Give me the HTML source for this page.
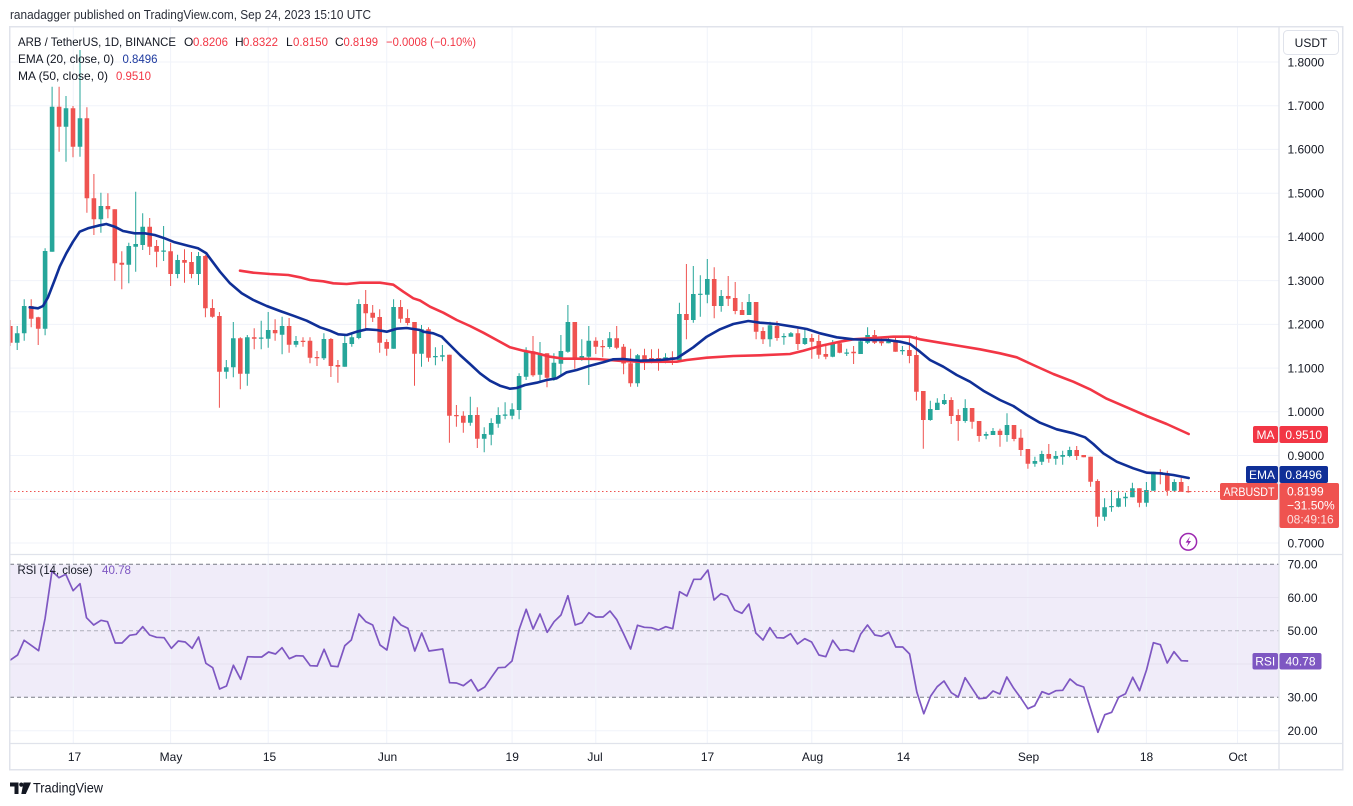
<!DOCTYPE html>
<html>
<head>
<meta charset="utf-8">
<style>
  html,body{margin:0;padding:0;background:#ffffff;}
  svg{display:block;}
  text{font-family:"Liberation Sans",Arial,sans-serif;}
</style>
</head>
<body>
<svg width="1353" height="806" viewBox="0 0 1353 806" xmlns="http://www.w3.org/2000/svg">
  <defs>
    <clipPath id="main"><rect x="10" y="27" width="1269" height="527"/></clipPath>
    <clipPath id="rsi"><rect x="10" y="555" width="1269" height="188"/></clipPath>
  </defs>
  <rect x="0" y="0" width="1353" height="806" fill="#ffffff"/>

  <!-- header -->
  <text x="10" y="19" font-size="12.5" fill="#2a2e39" textLength="361" lengthAdjust="spacingAndGlyphs">ranadagger published on TradingView.com, Sep 24, 2023 15:10 UTC</text>

  <!-- RSI band -->
  <rect x="10" y="564.3" width="1269" height="133" fill="#f0ecf9"/>

  <!-- grid -->
  <g stroke="#f0f3fa" stroke-width="1" fill="none">
    <path d="M10 62H1279M10 105.7H1279M10 149.4H1279M10 193.2H1279M10 236.9H1279M10 280.6H1279M10 324.4H1279M10 368.1H1279M10 411.8H1279M10 455.5H1279M10 499.3H1279M10 543H1279"/>
    <path d="M73.3 27V743M170.6 27V743M268.2 27V743M386.7 27V743M512.1 27V743M595.8 27V743M707.3 27V743M811.8 27V743M902.4 27V743M1027.9 27V743M1146.4 27V743M1237.5 27V743"/>
  </g>
  <g stroke="#e6e2f0" stroke-width="1"><path d="M10 597.5H1279M10 664H1279"/></g>
  <path d="M10 730.7H1279" stroke="#f0f3fa" stroke-width="1"/>

  <!-- RSI dashed levels -->
  <path d="M10 564.3H1279M10 697.3H1279" stroke="#787b86" stroke-width="1" stroke-dasharray="4 3"/>
  <path d="M10 630.8H1279" stroke="#787b86" stroke-opacity="0.55" stroke-width="1" stroke-dasharray="4 3"/>

  <!-- candles -->
  <g clip-path="url(#main)">
    <path stroke="#ef5350" stroke-width="1" fill="none" d="M10.3 320V346M31.2 299.3V327.3M38.2 316.7V345M59.1 86.7V151.7M73 106V157.3M86.9 107.3V212.7M93.9 174V235M107.9 193.3V218.3M114.8 209.3V280.7M121.8 251.3V289.3M149.7 218V255M156.6 240V267.3M170.6 242.7V286M184.5 249.3V282.7M191.5 252V278.3M205.4 255V317.3M212.4 299.3V317.7M219.4 312V407.7M240.3 337.3V389.3M254.2 328.3V349.3M275.1 319.3V340.7M289.1 318V352.7M303 337.3V346.7M310 337.3V363.3M317 351V366M330.9 338V377M337.9 360V382.7M365.7 290V328.7M372.7 305V322M379.7 309.3V352.7M386.7 339.3V355.7M400.6 300V322.7M407.6 309.3V325.3M414.5 322V385.7M428.5 327.3V361.7M449.4 354.7V442.7M456.4 405V426.7M463.3 411.3V432.7M477.3 407.3V448M533 336V376.7M547 353.3V387.3M574.8 322V368.7M595.8 337.3V354M602.7 340V357.3M616.7 326V349.3M623.6 344V374.3M630.6 348.7V386.7M644.5 348.7V370M651.5 349.3V363.3M658.5 348.7V370.7M672.4 351.3V365M686.4 264V339.3M714.2 267.3V318.3M728.2 276V306M735.2 282V314.3M742.1 302V315M756.1 302V339.3M763 327.3V344M777 321V340.7M797.9 328.7V350M811.8 334V358.7M818.8 334.7V358.7M825.8 346V359.3M839.7 340.7V353.3M853.6 346V364M874.6 330V344M881.5 338V345.7M895.5 338V351.7M909.4 337.5V363.3M916.4 336V400.5M923.3 391V448.7M951.2 397.3V424M958.2 409.3V440.7M972.1 408V428.7M979.1 421V441.7M1000 428.7V446.7M1014 425V441.3M1020.9 429.3V456M1027.9 449V468.7M1048.8 444V462.7M1076.7 446V460M1083.7 455V457.3M1090.6 456.7V486.7M1097.6 479.3V526.7M1139.4 488.3V507.3M1160.3 469.3V484.3M1167.3 470.7V495.7M1181.2 478V491.7M1188.2 486V492.7"/>
    <path fill="#ef5350" d="M8 326h4.6V342.7h-4.6z M28.9 306h4.6V318.7h-4.6z M35.9 317.3h4.6V328.7h-4.6z M56.8 106.7h4.6V126.7h-4.6z M70.7 108.3h4.6V146.7h-4.6z M84.6 118.3h4.6V198.3h-4.6z M91.6 198.3h4.6V219.3h-4.6z M105.6 206h4.6V209.3h-4.6z M112.5 209.3h4.6V263.3h-4.6z M119.5 262.7h4.6V264.7h-4.6z M147.4 226.7h4.6V246.7h-4.6z M154.3 246h4.6V251.7h-4.6z M168.3 251.3h4.6V274h-4.6z M182.2 260h4.6V262.7h-4.6z M189.2 262h4.6V274h-4.6z M203.1 256h4.6V308.3h-4.6z M210.1 308h4.6V316.7h-4.6z M217.1 316h4.6V371.7h-4.6z M238 338.3h4.6V373.7h-4.6z M251.9 337.3h4.6V338.7h-4.6z M272.8 330h4.6V333.3h-4.6z M286.8 326h4.6V344.7h-4.6z M300.7 340.7h4.6V342h-4.6z M307.7 340.7h4.6V357.7h-4.6z M314.7 357h4.6V358.3h-4.6z M328.6 339h4.6V366h-4.6z M335.6 365h4.6V366.7h-4.6z M363.4 304h4.6V313.3h-4.6z M370.4 312.7h4.6V317.7h-4.6z M377.4 317h4.6V342.7h-4.6z M384.4 342h4.6V348.7h-4.6z M398.3 307h4.6V318.7h-4.6z M405.3 318h4.6V323h-4.6z M412.2 322h4.6V353.7h-4.6z M426.2 329.3h4.6V357.7h-4.6z M447.1 354.7h4.6V415.7h-4.6z M454.1 415h4.6V416.3h-4.6z M461 415.7h4.6V422.7h-4.6z M475 415h4.6V438.7h-4.6z M530.7 351.3h4.6V375.3h-4.6z M544.7 353.3h4.6V377.7h-4.6z M572.5 322h4.6V359.3h-4.6z M593.5 340.7h4.6V346.7h-4.6z M600.4 346h4.6V347.2h-4.6z M614.4 338.3h4.6V347.7h-4.6z M621.3 346.7h4.6V363.5h-4.6z M628.3 363.3h4.6V383.3h-4.6z M642.2 355.3h4.6V362.7h-4.6z M649.2 358h4.6V360h-4.6z M656.2 358h4.6V360.7h-4.6z M670.1 357.3h4.6V360h-4.6z M684.1 314h4.6V320h-4.6z M711.9 279h4.6V306h-4.6z M725.9 296h4.6V298.7h-4.6z M732.9 298h4.6V311h-4.6z M739.8 310h4.6V315h-4.6z M753.8 302h4.6V331.7h-4.6z M760.7 331h4.6V339.3h-4.6z M774.7 326h4.6V338h-4.6z M795.6 333.3h4.6V344h-4.6z M809.5 338h4.6V341.7h-4.6z M816.5 341h4.6V354.7h-4.6z M823.5 354h4.6V356.7h-4.6z M837.4 343.3h4.6V352.7h-4.6z M851.3 351.7h4.6V353.3h-4.6z M872.3 335h4.6V342.7h-4.6z M879.2 341.3h4.6V343.3h-4.6z M893.2 340.7h4.6V351.7h-4.6z M907.1 350h4.6V356h-4.6z M914.1 355h4.6V391.7h-4.6z M921 391h4.6V420h-4.6z M948.9 400h4.6V416h-4.6z M955.9 415h4.6V421h-4.6z M969.8 408h4.6V421.7h-4.6z M976.8 421h4.6V436h-4.6z M997.7 430.7h4.6V435h-4.6z M1011.7 425h4.6V439h-4.6z M1018.6 437.7h4.6V450h-4.6z M1025.6 449h4.6V463.7h-4.6z M1046.5 454h4.6V458.7h-4.6z M1074.4 450h4.6V456h-4.6z M1081.4 455h4.6V457.3h-4.6z M1088.3 456.7h4.6V481.7h-4.6z M1095.3 481h4.6V516.7h-4.6z M1137.1 488.3h4.6V502.7h-4.6z M1158 472h4.6V473.3h-4.6z M1165 473.3h4.6V490.7h-4.6z M1178.9 482h4.6V491.7h-4.6z M1185.9 491h4.6V492.2h-4.6z"/>
    <path stroke="#26a69a" stroke-width="1" fill="none" d="M17.2 326V350M24.2 299.3V340.7M45.1 248.3V335.3M52.1 86.7V251.7M66 96V161.7M80 50V156.7M100.9 192.7V232.7M128.8 242.7V283.3M135.7 191.7V271.7M142.7 213.3V250M163.6 226V261M177.6 254.7V278.3M198.5 252V285M226.3 360V378.7M233.3 322V377.3M247.3 335V385.7M261.2 320.7V349.3M268.2 312V347.7M282.1 316.7V354.3M296 336V347.3M323.9 333.3V360M344.8 334V366.7M351.8 333.3V346.7M358.8 299.3V339.3M393.6 299.3V348.7M421.5 325V366.7M435.4 347.3V365.3M442.4 345V361.3M470.3 396.7V425.7M484.2 427.3V452.3M491.2 418.3V445.3M498.2 407.3V427.7M505.1 402.3V419.3M512.1 403.3V419.3M519.1 373.3V419.3M526.1 347.3V380M540 342V380.7M553.9 353.3V380.7M560.9 335V376.7M567.9 305V352.7M581.8 339.3V360.7M588.8 326V385M609.7 332V348.7M637.6 354V386.7M665.5 353.3V363.3M679.4 302.7V362M693.3 266V322.7M700.3 275.3V316.7M707.3 259V303.3M721.2 290V311.7M749.1 294V315M770 321.7V346.7M783.9 333.3V344.7M790.9 332V336.7M804.9 328.7V345M832.7 340V357.3M846.7 348.7V356M860.6 338.7V354M867.6 327.3V344M888.5 337.3V343.3M902.4 346V354.7M930.3 400.7V420.7M937.3 398.3V410M944.3 394V405M965.2 399.3V422.7M986.1 431.7V439.3M993 428V435M1007 413.3V441.7M1034.9 456.7V466.7M1041.8 450.7V465M1055.8 451V464.7M1062.7 450.7V464.7M1069.7 446.7V457.3M1104.6 498.3V520.7M1111.5 490V511.7M1118.5 490.7V507.3M1125.5 492.7V506.7M1132.4 482.7V497.3M1146.4 482V506.7M1153.4 471.7V490.7M1174.3 479.3V492"/>
    <path fill="#26a69a" d="M14.9 333.3h4.6V342.7h-4.6z M21.9 306h4.6V333.3h-4.6z M42.8 251h4.6V328.7h-4.6z M49.8 106.7h4.6V251.7h-4.6z M63.7 108.3h4.6V126.7h-4.6z M77.7 118.3h4.6V146.7h-4.6z M98.6 206h4.6V219.3h-4.6z M126.5 246h4.6V264.7h-4.6z M133.4 244h4.6V246.7h-4.6z M140.4 226.7h4.6V245h-4.6z M161.3 250.5h4.6V251.7h-4.6z M175.3 260h4.6V274h-4.6z M196.2 256h4.6V274h-4.6z M224 367.3h4.6V371.7h-4.6z M231 338.3h4.6V367.3h-4.6z M245 337.3h4.6V373.7h-4.6z M258.9 337.5h4.6V338.7h-4.6z M265.9 330h4.6V338.7h-4.6z M279.8 326h4.6V334.7h-4.6z M293.7 341h4.6V344.7h-4.6z M321.6 339h4.6V358.3h-4.6z M342.5 343h4.6V366.7h-4.6z M349.5 337.3h4.6V344h-4.6z M356.5 304h4.6V338h-4.6z M391.3 307h4.6V348.7h-4.6z M419.2 329.3h4.6V353.7h-4.6z M433.1 356h4.6V357.3h-4.6z M440.1 355.3h4.6V356.7h-4.6z M468 415h4.6V422.7h-4.6z M481.9 434h4.6V438.7h-4.6z M488.9 423h4.6V434.7h-4.6z M495.9 415h4.6V423.7h-4.6z M502.8 414.5h4.6V415.7h-4.6z M509.8 409.3h4.6V415.7h-4.6z M516.8 376h4.6V410h-4.6z M523.8 351.3h4.6V376.7h-4.6z M537.7 353.3h4.6V374.7h-4.6z M551.6 362.7h4.6V377.7h-4.6z M558.6 351h4.6V363.7h-4.6z M565.6 322h4.6V351.7h-4.6z M579.5 356h4.6V359.3h-4.6z M586.5 340.7h4.6V356.7h-4.6z M607.4 338.3h4.6V347h-4.6z M635.3 355.3h4.6V383.3h-4.6z M663.2 357.3h4.6V360.7h-4.6z M677.1 314h4.6V360h-4.6z M691 294h4.6V320h-4.6z M698 293.7h4.6V294.9h-4.6z M705 279h4.6V294.7h-4.6z M718.9 296h4.6V306h-4.6z M746.8 302h4.6V315h-4.6z M767.7 325.3h4.6V339.3h-4.6z M781.6 336h4.6V337.3h-4.6z M788.6 333.3h4.6V336.7h-4.6z M802.6 338h4.6V344h-4.6z M830.4 343.3h4.6V356.7h-4.6z M844.4 352.5h4.6V353.7h-4.6z M858.3 341.3h4.6V354h-4.6z M865.3 335h4.6V342.7h-4.6z M886.2 340.7h4.6V343.3h-4.6z M900.1 350h4.6V351.2h-4.6z M928 409h4.6V420h-4.6z M935 402.7h4.6V410h-4.6z M942 400h4.6V404h-4.6z M962.9 408h4.6V421h-4.6z M983.8 434h4.6V435.7h-4.6z M990.7 431h4.6V435h-4.6z M1004.7 425h4.6V435h-4.6z M1032.6 461h4.6V463.7h-4.6z M1039.5 454h4.6V461.7h-4.6z M1053.5 456h4.6V458.7h-4.6z M1060.4 455h4.6V456.7h-4.6z M1067.4 450h4.6V456h-4.6z M1102.3 507.3h4.6V516.7h-4.6z M1109.2 506h4.6V507.3h-4.6z M1116.2 498.3h4.6V506.7h-4.6z M1123.2 496.7h4.6V498.3h-4.6z M1130.1 488.3h4.6V497.3h-4.6z M1144.1 490h4.6V502.7h-4.6z M1151.1 471.7h4.6V490.7h-4.6z M1172 482h4.6V490.7h-4.6z"/>

    <!-- MA 50 -->
    <polyline fill="none" stroke="#f23645" stroke-width="2.6" stroke-linejoin="round" stroke-linecap="round" points="240,270.7 253.3,272.7 270,274 288.3,275 300,277.3 310,280 323.3,281.3 333.3,283.3 346.7,284 360,282.7 380,282.7 393.3,284.7 403.3,291.7 413.3,298.3 420,300.5 430,306.7 443.3,312.7 456.7,320 470,326 483.3,332.7 496.7,340 510,347.3 523.3,350.7 536.7,353.3 550,356.7 563.3,358.7 576.7,358.7 596.7,359 620,360.8 640,361.8 676.7,361.7 686.7,360 706.7,357.7 733.3,356 760,355.3 790,354 803.3,350.7 820,346 840,341.7 853.3,339.3 873.3,338 893.3,336.7 910,336.7 920,339.3 940,342.7 960,346 980,349.3 1000,353.3 1016.7,357.3 1033.3,365 1053.3,374 1073.3,381.7 1090,389.3 1106.7,398.7 1126.7,407.3 1146.7,416 1166.7,424 1188.7,434"/>
    <!-- EMA 20 -->
    <polyline fill="none" stroke="#0f2f97" stroke-width="2.6" stroke-linejoin="round" stroke-linecap="round" points="29.7,307.3 38,308.3 43,306 48,297.3 54.7,280 59.7,266.7 66.3,253.3 73,241.7 79.7,231.7 88,228.3 98,225.7 106.3,224 114.7,226.7 123,231 134.7,233.3 144.7,233.3 154.7,235 164.7,238.3 174.7,242.3 188,245.7 198,248.3 206.3,253.3 210,258.3 220,271.7 230,283.3 241.7,293.3 253.3,300 266.7,306 280,311 293.3,315.7 306.7,320.7 320,327.3 330,330.7 338.3,334.3 346.7,335 356.7,331.7 366.7,329.3 376.7,330 386.7,331.7 396.7,328.7 406.7,328 420,330 423.3,331.7 433.3,333.3 441.7,336.7 450,345 460,355 470,364 480,373.3 490,380.7 500,385.7 510,388.7 516.7,388 525,385 536.7,382.7 546.7,380 556.7,378.3 566.7,372.3 576.7,370 590,365.7 603.3,362.3 613.3,359.3 623.3,359 640,360.7 660,360 676.7,358.3 683.3,354 693.3,347.3 706.7,336.7 720,329.3 733.3,324 748.3,321 760,322.7 776.7,324 793.3,326.7 806.7,329 820,333.3 836.7,337.3 853.3,339.3 873.3,340 886.7,340 900,341.7 910,344 920,351.7 930,360 943.3,366.7 956.7,375 970,381.7 983.3,390.7 1000,400 1013.3,406 1026.7,415 1040,422.7 1056.7,429.3 1073.3,433.3 1085,437.3 1093.3,444 1103.3,453.3 1116.7,461.7 1133.3,468.3 1146.7,472.7 1160,473.3 1173.3,475 1188.7,478"/>

    <!-- current price dotted line -->
    <path d="M10 491.5H1220" stroke="#ef5350" stroke-width="1" stroke-dasharray="1.5 2.5"/>

    <!-- lightning icon -->
    <circle cx="1188.3" cy="541.8" r="8.3" fill="#ffffff" stroke="#9c27b0" stroke-width="1.5"/>
    <path d="M1190 536.5 L1185.6 542.6 H1188.4 L1186.7 547 L1191.1 541 H1188.3 Z" fill="#9c27b0"/>
  </g>

  <!-- RSI line -->
  <g clip-path="url(#rsi)">
    <polyline fill="none" stroke="#7e57c2" stroke-width="1.7" stroke-linejoin="round" points="9.9,660.3 17.6,655 24.1,640.3 31.7,645.7 38.6,650.7 45.1,618.3 52,571 58.9,577.7 65.8,574.3 73.1,590.7 80,583.7 86.5,617.7 93.7,625 101,620.3 107.5,621.7 115.2,643 122,643 129.7,635.3 136.2,634.3 142.7,626.7 149.6,635 156.5,637.3 164.1,637.7 171.4,648.3 178.3,641 185.2,642 192.1,648.3 198.6,637 205.9,663.3 212.7,667.7 219.6,689 226.5,686 233.4,665.3 240.7,679.3 247.6,656.7 254.8,657 261.7,657 268.6,652 275.5,654 282,647.7 289.3,658.7 296.2,655.7 303.1,656 310.3,665.7 317.2,666 324.1,649.3 331,666 337.9,666.7 344.8,645.7 351.3,640 358.9,614 365.8,621.7 372.7,625 380,645 386.9,650 393.8,617 401,625 407.9,628.3 414.8,651 421.7,633 429,651 435.9,650 442.7,649 449.6,682.7 456.5,683 463.4,685.7 471.1,679.7 478,691 484.8,687 491.4,677.3 498.2,667.7 505.1,667.3 512,661 519.3,629 526.2,609.3 533.1,629 540,614 547.2,632.3 554.1,621.7 561,615 567.9,595.7 575.2,625 582,622.7 588.9,612.7 595.8,617 603.1,617 610,611 616.8,619.7 623.7,634 630.6,649 637.5,625.3 644.4,627.3 651.3,627.7 658.6,630 665.8,626.7 672.7,628.7 679.6,591.7 686.9,596 693.8,579.3 700.7,579.3 707.9,570 714,600 720.9,593.7 727.4,596 734.7,610 742,613.3 748.9,604 755.8,633 763,640 769.9,627.7 776.8,637.7 783.7,638 790.6,633.7 797.5,644 804.7,638.7 811.6,642 818.9,655 825.8,656.7 832.7,640.3 840,650.3 846.8,649.7 853.7,651.7 860.6,634.3 867.5,625 874.8,635 881.7,636.3 888.9,632.3 895.8,647 902.7,647 909.6,654 916.9,692.3 923.8,713.7 930.7,696 937.2,686.7 944,681 951.3,692.7 958.2,697 965.1,677.7 972,688.3 978.9,698.7 986.1,698 993,691 999.9,694 1006.8,677 1013.7,688.3 1021,698.3 1027.9,708.7 1034.7,705.7 1042,691.7 1048.9,694.3 1055.8,690.7 1062.7,690.3 1070,679 1076.8,684.7 1083.7,687 1090.6,709 1097.9,732.3 1104.8,714.7 1111.7,712.3 1118.6,697.3 1125.5,693.7 1132.7,677.3 1139.6,690.7 1146.5,670 1153.4,642.7 1160.3,644.7 1167.2,663 1174,651.7 1181.3,660.7 1188.2,661"/>
  </g>

  <!-- frame and separators -->
  <g stroke="#e0e3eb" fill="none">
    <rect x="9.75" y="26.75" width="1333" height="743" stroke-width="1.5"/>
    <path d="M1279 27V770M10 554.5H1343M10 743.5H1343" stroke-width="1.3"/>
  </g>

  <!-- legend -->
  <g font-size="12" fill="#131722">
    <text x="18" y="46" textLength="158" lengthAdjust="spacingAndGlyphs">ARB / TetherUS, 1D, BINANCE</text>
    <text x="184" y="46">O</text>
    <text x="193" y="46" fill="#f23645" textLength="35" lengthAdjust="spacingAndGlyphs">0.8206</text>
    <text x="235" y="46">H</text>
    <text x="243" y="46" fill="#f23645" textLength="35" lengthAdjust="spacingAndGlyphs">0.8322</text>
    <text x="286" y="46">L</text>
    <text x="293" y="46" fill="#f23645" textLength="35" lengthAdjust="spacingAndGlyphs">0.8150</text>
    <text x="335" y="46">C</text>
    <text x="343.5" y="46" fill="#f23645" textLength="34.5" lengthAdjust="spacingAndGlyphs">0.8199</text>
    <text x="386" y="46" fill="#f23645" textLength="90" lengthAdjust="spacingAndGlyphs">−0.0008 (−0.10%)</text>
    <text x="18" y="63" textLength="96" lengthAdjust="spacingAndGlyphs">EMA (20, close, 0)</text>
    <text x="122.5" y="63" fill="#1e3a9f" textLength="35" lengthAdjust="spacingAndGlyphs">0.8496</text>
    <text x="18" y="80" textLength="90" lengthAdjust="spacingAndGlyphs">MA (50, close, 0)</text>
    <text x="116" y="80" fill="#f23645" textLength="35" lengthAdjust="spacingAndGlyphs">0.9510</text>
    <text x="17.5" y="574" textLength="75" lengthAdjust="spacingAndGlyphs">RSI (14, close)</text>
    <text x="102" y="574" fill="#7e57c2" textLength="29" lengthAdjust="spacingAndGlyphs">40.78</text>
  </g>

  <!-- price axis labels -->
  <g font-size="12" fill="#131722">
    <text x="1287.5" y="66.5">1.8000</text>
    <text x="1287.5" y="110">1.7000</text>
    <text x="1287.5" y="153.7">1.6000</text>
    <text x="1287.5" y="197.5">1.5000</text>
    <text x="1287.5" y="241.2">1.4000</text>
    <text x="1287.5" y="285">1.3000</text>
    <text x="1287.5" y="328.7">1.2000</text>
    <text x="1287.5" y="372.4">1.1000</text>
    <text x="1287.5" y="416.2">1.0000</text>
    <text x="1287.5" y="459.9">0.9000</text>
    <text x="1287.5" y="547.4">0.7000</text>
    <text x="1287.5" y="568.6">70.00</text>
    <text x="1287.5" y="601.9">60.00</text>
    <text x="1287.5" y="635.2">50.00</text>
    <text x="1287.5" y="701.6">30.00</text>
    <text x="1287.5" y="735">20.00</text>
  </g>

  <!-- USDT box -->
  <rect x="1283.5" y="30.5" width="55" height="24" rx="4" fill="#ffffff" stroke="#e0e3eb" stroke-width="1"/>
  <text x="1311" y="47" font-size="12" fill="#131722" text-anchor="middle">USDT</text>

  <!-- price labels -->
  <rect x="1253" y="426" width="25" height="17" rx="2" fill="#f23645"/>
  <text x="1265.5" y="438.8" font-size="12" fill="#ffffff" text-anchor="middle">MA</text>
  <rect x="1279.5" y="426" width="48.5" height="17" rx="2" fill="#f23645"/>
  <text x="1303.7" y="438.8" font-size="12" fill="#ffffff" text-anchor="middle">0.9510</text>

  <rect x="1246" y="466" width="32" height="17" rx="2" fill="#0f2f97"/>
  <text x="1262" y="478.8" font-size="12" fill="#ffffff" text-anchor="middle">EMA</text>
  <rect x="1279.5" y="466" width="48.5" height="17" rx="2" fill="#0f2f97"/>
  <text x="1303.7" y="478.8" font-size="12" fill="#ffffff" text-anchor="middle">0.8496</text>

  <rect x="1220" y="483" width="58" height="17" rx="2" fill="#ef5350"/>
  <text x="1249" y="495.8" font-size="12" fill="#ffffff" text-anchor="middle" textLength="51" lengthAdjust="spacingAndGlyphs">ARBUSDT</text>
  <rect x="1279.5" y="483" width="59.5" height="45" rx="2" fill="#ef5350"/>
  <text x="1287" y="495.5" font-size="12" fill="#ffffff">0.8199</text>
  <text x="1287" y="509.5" font-size="12" fill="#ffffff">−31.50%</text>
  <text x="1287" y="523.5" font-size="12" fill="#fde0df">08:49:16</text>

  <rect x="1252.5" y="653" width="25.5" height="16.5" rx="2" fill="#7e57c2"/>
  <text x="1265.2" y="665.5" font-size="12" fill="#ffffff" text-anchor="middle">RSI</text>
  <rect x="1279.5" y="653" width="42" height="16.5" rx="2" fill="#7e57c2"/>
  <text x="1300.5" y="665.5" font-size="12" fill="#ffffff" text-anchor="middle">40.78</text>

  <!-- time axis labels -->
  <g font-size="12" fill="#131722" text-anchor="middle">
    <text x="74.5" y="761">17</text>
    <text x="171" y="761">May</text>
    <text x="269.5" y="761">15</text>
    <text x="387.5" y="761">Jun</text>
    <text x="512.2" y="761">19</text>
    <text x="595" y="761">Jul</text>
    <text x="707.5" y="761">17</text>
    <text x="812.5" y="761">Aug</text>
    <text x="903.4" y="761">14</text>
    <text x="1028.5" y="761">Sep</text>
    <text x="1146.5" y="761">18</text>
    <text x="1237.8" y="761">Oct</text>
  </g>

  <!-- footer logo -->
  <g fill="#131722">
    <path d="M10 782.5h8.5v11.5h-4v-7.5h-4.5z"/>
    <circle cx="21.3" cy="784.6" r="2.1"/>
    <path d="M23.5 782.5h7.5l-5.2 11.5h-4.5z"/>
  </g>
  <text x="33" y="792.5" font-size="13.5" fill="#131722" textLength="70" lengthAdjust="spacingAndGlyphs">TradingView</text>
</svg>
</body>
</html>
